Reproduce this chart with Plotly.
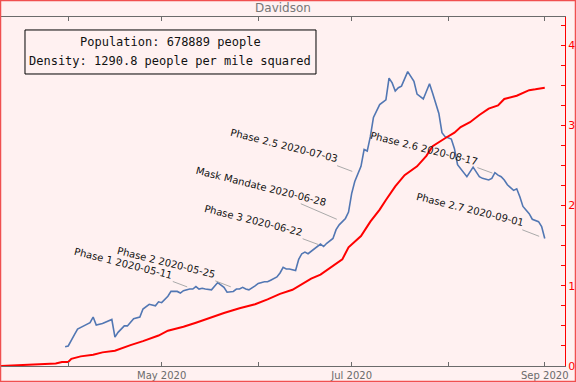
import plotly.graph_objects as go

# ---- data ----
blue_dates = [
    "2020-03-31", "2020-04-01", "2020-04-03", "2020-04-04", "2020-04-06", "2020-04-08", "2020-04-09",
    "2020-04-10", "2020-04-12", "2020-04-14", "2020-04-15", "2020-04-16", "2020-04-17", "2020-04-19",
    "2020-04-20", "2020-04-22", "2020-04-24", "2020-04-25", "2020-04-27", "2020-04-29", "2020-04-30",
    "2020-05-01", "2020-05-03", "2020-05-04", "2020-05-06", "2020-05-07", "2020-05-08", "2020-05-10",
    "2020-05-11", "2020-05-12", "2020-05-13", "2020-05-14", "2020-05-15", "2020-05-17", "2020-05-19",
    "2020-05-21", "2020-05-22", "2020-05-24", "2020-05-25", "2020-05-26", "2020-05-27", "2020-05-28",
    "2020-05-29", "2020-05-31",
    "2020-06-01", "2020-06-03", "2020-06-04", "2020-06-05", "2020-06-07", "2020-06-08", "2020-06-09",
    "2020-06-10", "2020-06-11", "2020-06-13", "2020-06-14", "2020-06-15", "2020-06-16", "2020-06-17",
    "2020-06-18", "2020-06-20", "2020-06-21", "2020-06-22", "2020-06-23", "2020-06-25", "2020-06-26",
    "2020-06-27", "2020-06-28", "2020-06-29", "2020-06-30",
    "2020-07-01", "2020-07-02", "2020-07-03", "2020-07-04", "2020-07-05", "2020-07-06", "2020-07-07",
    "2020-07-08", "2020-07-10", "2020-07-12", "2020-07-13", "2020-07-14", "2020-07-15", "2020-07-16",
    "2020-07-17", "2020-07-18", "2020-07-19", "2020-07-21", "2020-07-22", "2020-07-24", "2020-07-25",
    "2020-07-26", "2020-07-27", "2020-07-29", "2020-07-30", "2020-07-31",
    "2020-08-02", "2020-08-03", "2020-08-04", "2020-08-06", "2020-08-07", "2020-08-09", "2020-08-11",
    "2020-08-12", "2020-08-14", "2020-08-15", "2020-08-16", "2020-08-17", "2020-08-18", "2020-08-19",
    "2020-08-20", "2020-08-22", "2020-08-23", "2020-08-24", "2020-08-25", "2020-08-27", "2020-08-28",
    "2020-08-30", "2020-08-31", "2020-09-01",
]
blue_values = [
    0.24, 0.25, 0.39, 0.46, 0.50, 0.54, 0.61, 0.51, 0.53, 0.56, 0.58, 0.36, 0.42, 0.50,
    0.50, 0.59, 0.61, 0.71, 0.77, 0.75, 0.80,
    0.79, 0.87, 0.93, 0.93, 0.91, 0.94, 0.96, 0.96, 0.99, 0.96, 0.97, 0.96, 0.95, 1.04,
    0.98, 0.92, 0.93, 0.96, 0.96, 0.98, 0.96, 0.95, 1.00,
    1.03, 1.05, 1.05, 1.07, 1.11, 1.16, 1.23, 1.21, 1.21, 1.19, 1.33, 1.40, 1.42, 1.40,
    1.43, 1.48, 1.52, 1.49, 1.53, 1.59, 1.70, 1.76, 1.80, 1.84, 1.92,
    2.15, 2.30, 2.40, 2.49, 2.70, 2.68, 2.86, 3.10, 3.26, 3.32, 3.59, 3.53, 3.43, 3.47,
    3.49, 3.57, 3.67, 3.55, 3.39, 3.33, 3.42, 3.52, 3.40, 3.15, 2.91, 2.86,
    2.83, 2.71, 2.51, 2.41, 2.36, 2.48, 2.36, 2.34, 2.32, 2.34, 2.41, 2.38, 2.36, 2.32,
    2.26, 2.19, 2.21, 2.11, 1.99, 1.90, 1.83, 1.80, 1.74, 1.59,
]

red_dates = [
    "2020-03-10", "2020-03-16", "2020-03-21", "2020-03-28", "2020-03-30", "2020-04-01", "2020-04-02",
    "2020-04-05", "2020-04-09", "2020-04-12", "2020-04-16", "2020-04-18", "2020-04-21", "2020-04-25",
    "2020-04-30", "2020-05-03", "2020-05-08", "2020-05-12", "2020-05-17", "2020-05-21", "2020-05-26",
    "2020-05-31", "2020-06-04", "2020-06-08", "2020-06-12", "2020-06-15", "2020-06-18", "2020-06-21",
    "2020-06-25", "2020-06-28", "2020-06-30", "2020-07-04", "2020-07-07", "2020-07-10", "2020-07-12",
    "2020-07-15", "2020-07-18", "2020-07-22", "2020-07-25", "2020-07-27", "2020-07-31", "2020-08-03",
    "2020-08-05", "2020-08-08", "2020-08-11", "2020-08-14", "2020-08-17", "2020-08-19", "2020-08-23",
    "2020-08-27", "2020-08-29", "2020-09-01",
]
red_values = [
    0.00, 0.01, 0.02, 0.03, 0.05, 0.05, 0.09,
    0.12, 0.14, 0.17, 0.19, 0.22, 0.26, 0.31,
    0.38, 0.44, 0.49, 0.54, 0.61, 0.66, 0.72,
    0.77, 0.83, 0.90, 0.95, 1.02, 1.09, 1.14,
    1.25, 1.33, 1.48, 1.62, 1.80, 1.95, 2.07,
    2.24, 2.38, 2.49, 2.62, 2.74, 2.84, 2.91,
    2.98, 3.04, 3.13, 3.21, 3.25, 3.33, 3.37,
    3.44, 3.45, 3.47,
]

phase_labels = [
    "Phase 1 2020-05-11", "Phase 2 2020-05-25", "Phase 3 2020-06-22", "Mask Mandate 2020-06-28",
    "Phase 2.5 2020-07-03", "Phase 2.6 2020-08-17", "Phase 2.7 2020-09-01",
]
phase_dates = ["2020-05-11", "2020-05-25", "2020-06-22", "2020-06-28", "2020-07-03", "2020-08-17", "2020-09-01"]

title_text = "Davidson"
info_lines = ["Population: 678889 people", "Density: 1290.8 people per mile squared"]

# ---- layout helpers (pixel offsets of label centres from the annotated point) ----
label_offsets = [(-69, -26), (-70, -27), (-70, -26), (-81, -35), (-74, -28), (-74, -27), (-75, -29)]

BG = "#fff1f1"
GRAY = "#6b6b6b"
YMAX = 4.352

blue_lookup = dict(zip(blue_dates, blue_values))

fig = go.Figure()
fig.add_trace(go.Scatter(x=blue_dates, y=blue_values, mode="lines", yaxis="y",
                         line=dict(color="#5277b3", width=1.6), showlegend=False))
fig.add_trace(go.Scatter(x=red_dates, y=red_values, mode="lines", yaxis="y2",
                         line=dict(color="#ff0000", width=2), showlegend=False))

annotations = []
for lab, d, (ax, ay) in zip(phase_labels, phase_dates, label_offsets):
    annotations.append(dict(
        x=d, y=blue_lookup[d], xref="x", yref="y", text=lab,
        showarrow=True, arrowhead=0, arrowwidth=1, arrowcolor="#aaaaaa",
        ax=ax, ay=ay, standoff=6, textangle=14,
        font=dict(size=10, color="#111111", family="DejaVu Sans"),
    ))

# info box text
annotations.append(dict(x=0.3005, y=0.9292, xref="paper", yref="paper", text=info_lines[0],
                        showarrow=False, xanchor="center", yanchor="middle",
                        font=dict(size=12, color="#111111", family="DejaVu Sans Mono")))
annotations.append(dict(x=0.3005, y=0.8748, xref="paper", yref="paper", text=info_lines[1],
                        showarrow=False, xanchor="center", yanchor="middle",
                        font=dict(size=12, color="#111111", family="DejaVu Sans Mono")))

shapes = [
    dict(type="rect", xref="paper", yref="paper", x0=0.04255, x1=0.5585, y0=0.8367, y1=0.9628,
         line=dict(color="black", width=1), fillcolor="rgba(0,0,0,0)", layer="above"),
    dict(type="rect", xref="paper", yref="paper", x0=-0.0009, x1=1.0186, y0=-0.0444, y1=1.0473,
         line=dict(color="#f05050", width=1.5), fillcolor="rgba(0,0,0,0)", layer="above"),
]

fig.update_layout(
    width=576, height=382,
    margin=dict(l=1, r=11, t=17, b=16, pad=0),
    paper_bgcolor=BG, plot_bgcolor=BG,
    font=dict(family="DejaVu Sans", size=10, color=GRAY),
    title=dict(text=title_text, x=0.5, xref="paper", y=1 - 8 / 382, yanchor="middle",
               font=dict(size=12, color="#777777")),
    showlegend=False,
    annotations=annotations,
    shapes=shapes,
    xaxis=dict(
        type="date", range=["2020-03-10 10:00", "2020-09-07 12:00"],
        showline=True, linecolor=GRAY, linewidth=1.2, mirror="allticks",
        ticks="inside", ticklen=4, tickcolor=GRAY, tickwidth=1,
        tick0="2020-05-01", dtick="M2", tickformat="%b %Y",
        tickfont=dict(size=10, color=GRAY),
        minor=dict(tick0="2020-04-01", dtick="M1", ticks="inside", ticklen=4, tickcolor=GRAY),
        showgrid=False, zeroline=False, automargin=False,
    ),
    yaxis=dict(
        range=[0, YMAX], showline=True, linecolor=GRAY, linewidth=1.2,
        showticklabels=False, ticks="", showgrid=False, zeroline=False, automargin=False,
    ),
    yaxis2=dict(
        range=[0, YMAX], overlaying="y", side="right", anchor="x",
        showline=True, linecolor="#ff0000", linewidth=1.2,
        ticks="inside", ticklen=4, tickcolor="#ff0000", tickwidth=1,
        dtick=1, tick0=0, tickfont=dict(size=11, color="#ff0000"),
        minor=dict(dtick=0.25, ticks="inside", ticklen=4, tickcolor="#ff0000"),
        showgrid=False, zeroline=False, automargin=False,
    ),
)

fig.write_html("out.html")
